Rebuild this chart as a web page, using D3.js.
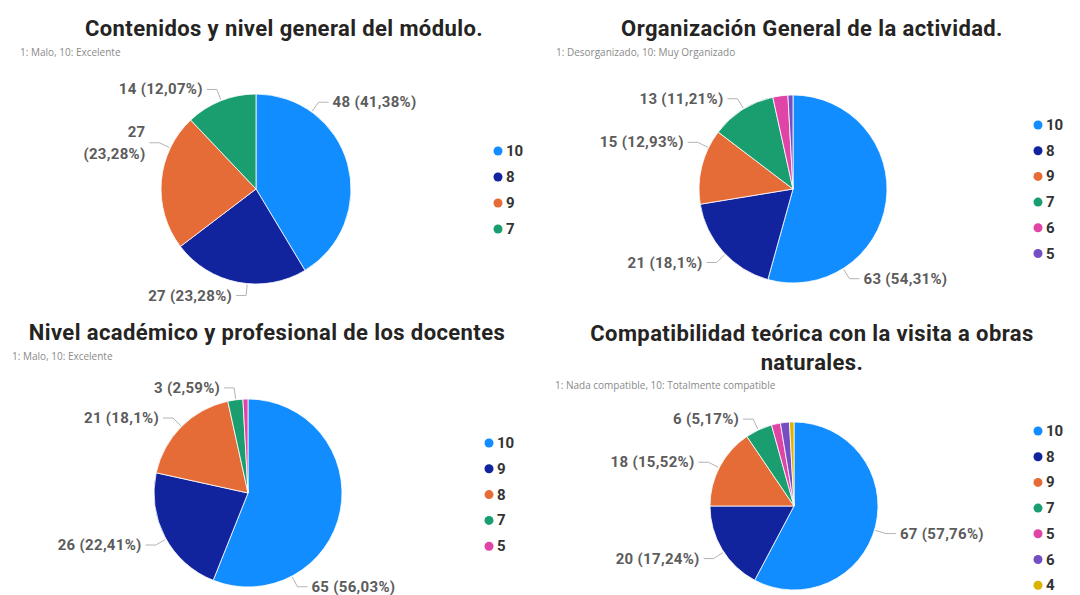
<!DOCTYPE html>
<html>
<head>
<meta charset="utf-8">
<script src="https://cdn.jsdelivr.net/npm/d3@7"></script>
<style>
  body { margin: 0; background: #fff; }
  svg { display: block; }
  .title { font-family: Roboto, "Noto Sans", sans-serif; font-weight: 700; fill: #252423; letter-spacing: 0.4px; }
  .subtitle { font-family: "Open Sans", sans-serif; font-size: 10px; fill: #8a8a8a; }
  .lbl { font-family: Roboto, "Noto Sans", sans-serif; font-weight: 700; font-size: 15px; fill: #5c5c5c; letter-spacing: 0.3px; }
  .leg { font-family: Roboto, "Noto Sans", sans-serif; font-weight: 700; font-size: 15px; fill: #333; }
</style>
</head>
<body>
<div id="chart"></div>
<script>
var svgWidth = 1080;
var svgHeight = 595;

// Data (one set per pie, in legend order)
var titles = [
  ["Contenidos y nivel general del módulo."],
  ["Organización General de la actividad."],
  ["Nivel académico y profesional de los docentes"],
  ["Compatibilidad teórica con la visita a obras", "naturales."]
];
var subtitles = [
  "1: Malo, 10: Excelente",
  "1: Desorganizado, 10: Muy Organizado",
  "1: Malo, 10: Excelente",
  "1: Nada compatible, 10: Totalmente compatible"
];
var cats1 = ["10", "8", "9", "7"];
var vals1 = [48, 27, 27, 14];
var cats2 = ["10", "8", "9", "7", "6", "5"];
var vals2 = [63, 21, 15, 13, 3, 1];
var cats3 = ["10", "9", "8", "7", "5"];
var vals3 = [65, 26, 21, 3, 1];
var cats4 = ["10", "8", "9", "7", "5", "6", "4"];
var vals4 = [67, 20, 18, 6, 2, 2, 1];

var palette = ["#118DFF", "#12239E", "#E66C37", "#1A9E70", "#E044A7", "#744EC2", "#D9B300"];

// Layout per panel (positions only)
var panels = [
  { ox: 0,   oy: 0,   tx: 284, ty: [28], sx: 20, sy: 52, cx: 256, cy: 189, r: 95,
    lx: 498, ly: 151, step: 26, angles: [35.8, 185.3, 295.6, 338.5], wrap: [false, false, true, false] },
  { ox: 540, oy: 0,   tx: 272, ty: [28], sx: 16, sy: 52, cx: 253, cy: 189, r: 94,
    lx: 498, ly: 125, step: 25.7, angles: [147.8, 226.1, 296.1, 328.4], wrap: [false, false, false, false] },
  { ox: 0,   oy: 300, tx: 267, ty: [32], sx: 12, sy: 56, cx: 248, cy: 193, r: 94,
    lx: 489, ly: 143, step: 25.8, angles: [152.2, 240.6, 315, 352.5], wrap: [false, false, false, false] },
  { ox: 540, oy: 300, tx: 272, ty: [33, 62], sx: 15, sy: 85, cx: 254, cy: 206, r: 84,
    lx: 498, ly: 131, step: 25.7, angles: [106.7, 236.8, 297.1, 334.8], wrap: [false, false, false, false] }
];
var cats = [cats1, cats2, cats3, cats4];
var vals = [vals1, vals2, vals3, vals4];

var svg = d3.select("#chart")
  .append("svg")
  .attr("width", svgWidth)
  .attr("height", svgHeight);

var pctFmt = function(v) {
  return d3.format(".2f")(v).replace(/\.?0+$/, "").replace(".", ",");
};

panels.forEach(function(p, i) {
  var g = svg.append("g").attr("transform", `translate(${p.ox},${p.oy})`);
  var data = cats[i].map(function(c, k) { return { cat: c, value: vals[i][k] }; });
  var total = d3.sum(data, d => d.value);
  var color = d3.scaleOrdinal().domain(cats[i]).range(palette);

  // title + subtitle
  titles[i].forEach(function(t, k) {
    g.append("text")
      .attr("class", "title")
      .attr("x", p.tx)
      .attr("y", p.ty[k])
      .attr("text-anchor", "middle")
      .attr("dominant-baseline", "central")
      .style("font-size", "22px")
      .text(t);
  });
  g.append("text")
    .attr("class", "subtitle")
    .attr("x", p.sx)
    .attr("y", p.sy)
    .attr("dominant-baseline", "central")
    .text(subtitles[i]);

  // pie
  var pie = d3.pie().sort(null).value(d => d.value);
  var arc = d3.arc().innerRadius(0).outerRadius(p.r);
  var arcs = pie(data);
  var pieG = g.append("g").attr("transform", `translate(${p.cx},${p.cy})`);
  pieG.selectAll("path")
    .data(arcs)
    .enter()
    .append("path")
    .attr("d", arc)
    .attr("fill", d => color(d.data.cat))
    .attr("stroke", "#fff")
    .attr("stroke-width", 0.8);

  // data labels for the first four slices
  arcs.slice(0, 4).forEach(function(a, k) {
    var th = p.angles[k] * Math.PI / 180;
    var right = Math.sin(th) > 0;
    var p0 = [Math.sin(th) * (p.r + 1), -Math.cos(th) * (p.r + 1)];
    var p1 = [Math.sin(th) * (p.r + 12), -Math.cos(th) * (p.r + 12)];
    var p2 = [p1[0] + (right ? 10 : -10), p1[1]];
    pieG.append("polyline")
      .attr("points", [p0, p1, p2].map(q => q.join(",")).join(" "))
      .attr("fill", "none")
      .attr("stroke", "#b3b3b3")
      .attr("stroke-width", 1);
    var label = a.data.value + " (" + pctFmt(a.data.value / total * 100) + "%)";
    var txt = pieG.append("text")
      .attr("class", "lbl")
      .attr("x", p2[0] + (right ? 4 : -4))
      .attr("y", p2[1])
      .attr("text-anchor", right ? "start" : "end")
      .attr("dominant-baseline", "central");
    if (p.wrap[k]) {
      var parts = label.split(" ");
      txt.append("tspan").attr("x", p2[0] - 4).attr("dy", "-0.75em").text(parts[0]);
      txt.append("tspan").attr("x", p2[0] - 4).attr("dy", "1.5em").text(parts[1]);
    } else {
      txt.text(label);
    }
  });

  // legend
  var leg = g.selectAll(".legItem")
    .data(data)
    .enter()
    .append("g")
    .attr("transform", (d, k) => `translate(${p.lx},${p.ly + k * p.step})`);
  leg.append("circle")
    .attr("r", 4.5)
    .attr("fill", d => color(d.cat));
  leg.append("text")
    .attr("class", "leg")
    .attr("x", 8)
    .attr("dominant-baseline", "central")
    .text(d => d.cat);
});
</script>
</body>
</html>
